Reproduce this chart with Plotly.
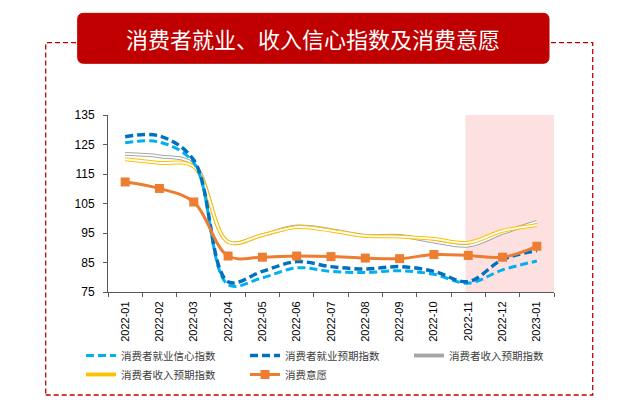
import plotly.graph_objects as go

months = ["2022-01", "2022-02", "2022-03", "2022-04", "2022-05", "2022-06", "2022-07",
          "2022-08", "2022-09", "2022-10", "2022-11", "2022-12", "2023-01"]
emp_conf = [125.6, 125.8, 118.8, 77.5, 79.8, 83.2, 82.0, 81.6, 82.2, 81.0, 78.0, 82.5, 85.5]
emp_exp = [127.6, 127.9, 119.7, 78.5, 82.0, 85.3, 83.6, 82.8, 83.6, 82.0, 78.5, 86.0, 89.0]
inc_exp_gray = [121.8, 121.0, 118.3, 92.0, 94.3, 97.2, 96.0, 94.0, 94.0, 92.1, 90.7, 95.0, 98.8]
inc_exp_yellow = [120.0, 118.8, 117.5, 92.0, 94.3, 97.0, 95.8, 94.0, 93.8, 93.0, 91.7, 95.7, 97.7]
consume_will = [112.3, 110.1, 105.5, 87.2, 86.8, 87.2, 87.0, 86.5, 86.3, 87.7, 87.4, 86.8, 90.5]

names = ["消费者就业信心指数", "消费者就业预期指数", "消费者收入预期指数", "消费者收入预期指数", "消费意愿"]
title_text = "消费者就业、收入信心指数及消费意愿"

OFF = 8  # page body margin
W, H = 621 - OFF, 415 - OFF
L, R, T, B = 108 - OFF, 554 - OFF, 115 - OFF, 292 - OFF


def px(x):
    return (x - OFF - L) / (R - L)


def py(y):
    return (B - (y - OFF)) / (B - T)


fig = go.Figure()

fig.add_trace(go.Scatter(x=months, y=inc_exp_gray, name=names[2], mode="lines",
                         line=dict(color="#A6A6A6", width=3.8, shape="spline"),
                         legendrank=3, hoverinfo="skip"))
fig.add_trace(go.Scatter(x=months, y=inc_exp_gray, mode="lines", showlegend=False,
                         line=dict(color="white", width=1.8, shape="spline"),
                         hoverinfo="skip"))
fig.add_trace(go.Scatter(x=months, y=inc_exp_yellow, name=names[3], mode="lines",
                         line=dict(color="#FFC000", width=3.8, shape="spline"),
                         legendrank=4, hoverinfo="skip"))
fig.add_trace(go.Scatter(x=months, y=inc_exp_yellow, mode="lines", showlegend=False,
                         line=dict(color="white", width=1.8, shape="spline"),
                         hoverinfo="skip"))
fig.add_trace(go.Scatter(x=months, y=emp_conf, name=names[0], mode="lines",
                         line=dict(color="#00B0F0", width=3, dash="8px,4px", shape="spline"),
                         legendrank=1))
fig.add_trace(go.Scatter(x=months, y=emp_exp, name=names[1], mode="lines",
                         line=dict(color="#0070C0", width=3.5, dash="8px,4px", shape="spline"),
                         legendrank=2))
fig.add_trace(go.Scatter(x=months, y=consume_will, name=names[4], mode="lines+markers",
                         line=dict(color="#ED7D31", width=3, shape="spline"),
                         marker=dict(symbol="square", size=9, color="#ED7D31"),
                         legendrank=5))

shapes = []
shapes.append(dict(type="rect", xref="x", yref="y", x0=9.92, x1=12.5, y0=75, y1=135.7,
                   fillcolor="#FDE1E1", line=dict(width=0), layer="below"))
shapes.append(dict(type="rect", xref="paper", yref="paper",
                   x0=px(45.7), x1=px(592.7), y0=py(395), y1=py(42.7),
                   line=dict(color="#C00000", width=1.3, dash="5px,3px"),
                   fillcolor="rgba(0,0,0,0)", layer="above"))
x0, x1, y0, y1 = 77.7, 549, 13.3, 63.3
r = 6
path = (f"M {px(x0 + r)},{py(y0)} L {px(x1 - r)},{py(y0)} Q {px(x1)},{py(y0)} {px(x1)},{py(y0 + r)} "
        f"L {px(x1)},{py(y1 - r)} Q {px(x1)},{py(y1)} {px(x1 - r)},{py(y1)} "
        f"L {px(x0 + r)},{py(y1)} Q {px(x0)},{py(y1)} {px(x0)},{py(y1 - r)} "
        f"L {px(x0)},{py(y0 + r)} Q {px(x0)},{py(y0)} {px(x0 + r)},{py(y0)} Z")
shapes.append(dict(type="path", xref="paper", yref="paper", path=path,
                   fillcolor="#C00000", line=dict(color="#C00000", width=1), layer="above"))

fig.update_layout(
    width=W, height=H,
    margin=dict(l=L, r=W - R, t=T, b=H - B, pad=0),
    paper_bgcolor="white", plot_bgcolor="rgba(0,0,0,0)",
    font=dict(family="Liberation Sans, Arial, sans-serif", size=11, color="#000000"),
    shapes=shapes,
    annotations=[dict(text=title_text, xref="paper", yref="paper",
                      x=px((x0 + x1) / 2), y=py((y0 + y1) / 2), xanchor="center", yanchor="middle",
                      showarrow=False,
                      font=dict(family="Noto Sans CJK SC", size=22, color="white"))],
    showlegend=True,
    legend=dict(orientation="h", x=px(81), y=py(341), xanchor="left", yanchor="top",
                entrywidth=119, entrywidthmode="pixels", bgcolor="rgba(0,0,0,0)",
                font=dict(family="Noto Sans CJK SC", size=10.5, color="#404040"),
                borderwidth=0, itemwidth=30),
    xaxis=dict(type="category", range=[-0.5, 12.5], showgrid=False, zeroline=False,
               showline=True, linecolor="#595959", linewidth=1,
               ticks="outside", tickson="boundaries", ticklen=4, tickcolor="#595959",
               tickangle=-90, ticklabelstandoff=4, tickfont=dict(size=11, color="#000000")),
    yaxis=dict(range=[75, 135], tickvals=[75, 85, 95, 105, 115, 125, 135], showgrid=False,
               zeroline=False, showline=True, linecolor="#595959", linewidth=1,
               ticks="outside", ticklen=4, tickcolor="#595959", ticklabelstandoff=6,
               tickfont=dict(size=12, color="#000000")),
)

fig.write_html("out.html")
